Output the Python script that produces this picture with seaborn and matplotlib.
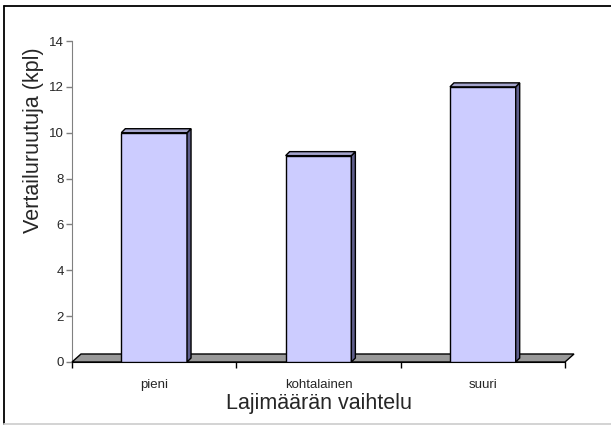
import matplotlib
matplotlib.use('Agg')
import matplotlib.pyplot as plt
from matplotlib.patches import Polygon
from matplotlib.lines import Line2D
import seaborn as sns

categories = ['pieni', 'kohtalainen', 'suuri']
values = [10, 9, 12]
y_ticks = [0, 2, 4, 6, 8, 10, 12, 14]
x_label = 'Lajimäärän vaihtelu'
y_label = 'Vertailuruutuja (kpl)'

W, H = 611, 426
sns.set_style('white')
plt.rcParams['font.family'] = ['Liberation Sans', 'DejaVu Sans']

fig = plt.figure(figsize=(W / 100, H / 100), dpi=100)
# axes placed in pixel terms: x 72..565, y 41..362 (from top)
ax = fig.add_axes([72 / W, (H - 362) / H, (565 - 72) / W, 321 / H])

sns.barplot(x=categories, y=values, color='#CCCCFF', saturation=1,
            edgecolor='black', linewidth=1, width=0.4, ax=ax, zorder=3)

ax.set_xlim(-0.5, 2.5)
ax.set_ylim(0, 14)

# pixel -> data conversions
px_x = 3 / 493
px_y = 14 / 321

# floor of the 3d chart
fdx, fdy = 9 * px_x, 8 * px_y
floor = Polygon([(-0.5, 0), (2.5, 0), (2.5 + fdx, fdy), (-0.5 + fdx, fdy)],
                closed=True, facecolor='#999999', edgecolor='black',
                linewidth=1, clip_on=False, zorder=2)
ax.add_patch(floor)

# side and top faces for each bar
bdx, bdy = 4 * px_x, 4 * px_y
for i, v in enumerate(values):
    x0, x1 = i - 0.2, i + 0.2
    side = Polygon([(x1, 0), (x1 + bdx, bdy), (x1 + bdx, v + bdy), (x1, v)],
                   closed=True, facecolor='#5E5E8C', edgecolor='black',
                   linewidth=1, clip_on=False, zorder=3)
    top = Polygon([(x0, v), (x1, v), (x1 + bdx, v + bdy), (x0 + bdx, v + bdy)],
                  closed=True, facecolor='#A4A4CC', edgecolor='black',
                  linewidth=1, clip_on=False, zorder=3)
    ax.add_patch(side)
    ax.add_patch(top)

# axes styling
for s in ['top', 'right']:
    ax.spines[s].set_visible(False)
ax.spines['left'].set_color('#808080')
ax.spines['bottom'].set_color('black')
ax.spines['left'].set_zorder(1)

ax.set_yticks(y_ticks)
ax.tick_params(axis='y', direction='out', length=4, width=1, color='#808080',
               labelsize=9.5, pad=2, left=True)
ax.set_xticks([-0.5, 0.5, 1.5, 2.5])
ax.set_xticklabels([])
ax.set_xticks([0, 1, 2], minor=True)
ax.set_xticklabels(categories, minor=True)
ax.tick_params(axis='x', which='major', direction='out', length=4, width=1,
               color='black', bottom=True)
ax.tick_params(axis='x', which='minor', length=0, labelsize=9.5, pad=12)

ax.set_xlabel(x_label, fontsize=15.5, labelpad=2)
ax.set_ylabel(y_label, fontsize=15.5, va='center')
ax.yaxis.set_label_coords(-0.078, 0.69)

# outer chart-area frame (right edge falls outside the image)
fig.add_artist(Line2D([4 / W, 4 / W], [2 / H, 1 - 6 / H], transform=fig.transFigure,
                      color='black', linewidth=1.3))
fig.add_artist(Line2D([4 / W, 1.0], [1 - 6 / H, 1 - 6 / H], transform=fig.transFigure,
                      color='black', linewidth=1.3))
fig.add_artist(Line2D([4 / W, 1.0], [2 / H, 2 / H], transform=fig.transFigure,
                      color='#D0D0D0', linewidth=1.3))

fig.savefig('out.png', dpi=100)
